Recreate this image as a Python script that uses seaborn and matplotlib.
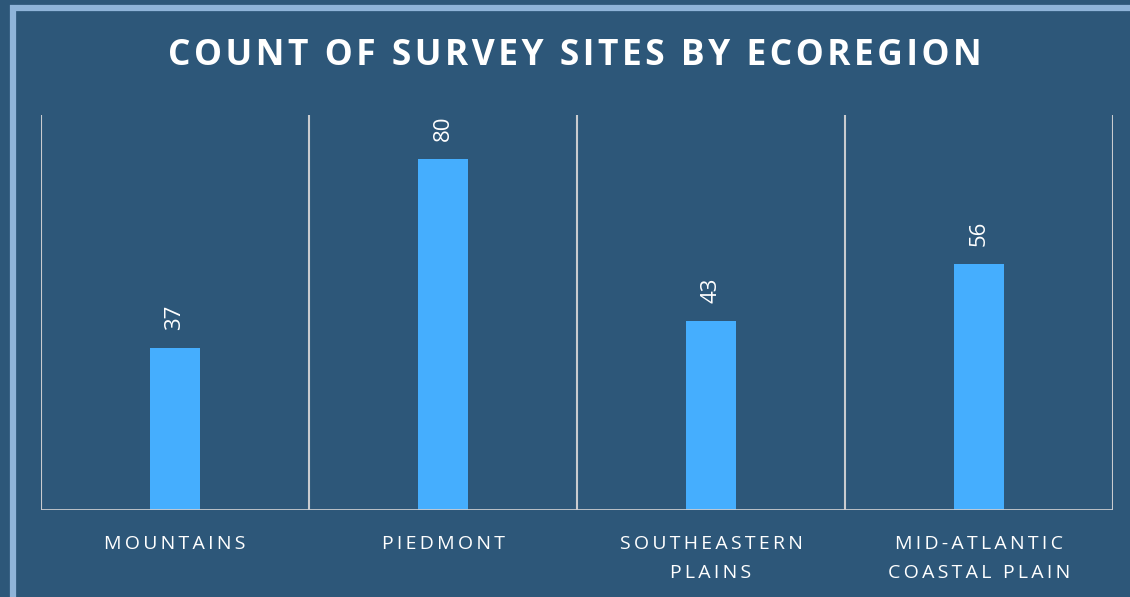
import matplotlib
matplotlib.use("Agg")
import matplotlib.pyplot as plt
import matplotlib.patches as mpatches
import seaborn as sns
import pandas as pd

categories = ["MOUNTAINS", "PIEDMONT", "SOUTHEASTERN\nPLAINS", "MID-ATLANTIC\nCOASTAL PLAIN"]
counts = [37, 80, 43, 56]
title = "COUNT OF SURVEY SITES BY ECOREGION"

BG = "#2d5779"
BAR = "#45aefe"
FRAME = "#8fb4d9"
GRID = "#c9cbcf"

def spaced(s, sep="\u200a"):
    return "\n".join(sep.join(line) for line in s.split("\n"))

sns.set_theme(style="white")
plt.rcParams['font.family'] = ['Open Sans', 'DejaVu Sans']

df = pd.DataFrame({"region": categories, "count": counts})

fig = plt.figure(figsize=(11.3, 5.97), dpi=100, facecolor=BG)
W, H = 1130, 597
# frame
fig.patches.append(mpatches.Rectangle((12.5 / W, -0.1), 1.2, (597 - 8) / H + 0.1,
                                      transform=fig.transFigure, fill=False,
                                      edgecolor=FRAME, linewidth=4.5, zorder=0))

ax = fig.add_axes([41 / W, (597 - 510) / H, (1113 - 41) / W, (510 - 115) / H])
ax.set_facecolor(BG)
sns.barplot(data=df, x="region", y="count", color=BAR, width=0.185,
            saturation=1, linewidth=0, ax=ax)
ax.set_xlim(-0.5, 3.5)
ax.set_ylim(0, 90)
for s in ax.spines.values():
    s.set_visible(False)
for x in [-0.5, 0.5, 1.5, 2.5, 3.5]:
    ax.axvline(x, color=GRID, lw=1.5, zorder=0)
ax.axhline(0, color=GRID, lw=2, zorder=3)

for i, v in enumerate(counts):
    ax.annotate(str(v), (i, v), xytext=(0, 13), textcoords="offset points",
                rotation=90, ha="center", va="bottom", color="white", fontsize=16)

ax.set_yticks([])
ax.set_xticks(range(len(categories)))
ax.set_xticklabels([spaced(c, "\u2009") for c in categories], color="white",
                   fontsize=14, linespacing=1.78, va="top")
ax.tick_params(axis="x", length=0, pad=18)
ax.set_xlabel("")
ax.set_ylabel("")

fig.text(575 / W, 1 - 56 / H, spaced(title, "\u200a"), ha="center", va="center",
         color="white", fontsize=25.5, fontweight="bold")

fig.savefig("out.png", dpi=100, facecolor=BG)
